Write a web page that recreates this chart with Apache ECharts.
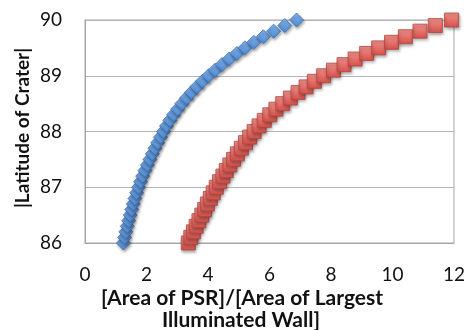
<!DOCTYPE html>
<html>
<head>
<meta charset="utf-8">
<script src="https://cdn.jsdelivr.net/npm/echarts@6/dist/echarts.min.js"></script>
<style>
html,body{margin:0;padding:0;background:#fff;}
#chart{width:468px;height:330px;}
</style>
</head>
<body>
<div id="chart"></div>
<script>
// Latitude of crater (y values), shared by both series
var latitudes = [86.0,86.1,86.2,86.3,86.4,86.5,86.6,86.7,86.8,86.9,
  87.0,87.1,87.2,87.3,87.4,87.5,87.6,87.7,87.8,87.9,
  88.0,88.1,88.2,88.3,88.4,88.5,88.6,88.7,88.8,88.9,
  89.0,89.1,89.2,89.3,89.4,89.5,89.6,89.7,89.8,89.9,90.0];
// [Area of PSR]/[Area of Largest Illuminated Wall] - blue diamonds
var blueRatio = [1.25,1.29,1.33,1.375,1.42,1.47,1.52,1.57,1.625,1.68,
  1.74,1.805,1.875,1.95,2.03,2.11,2.19,2.275,2.365,2.455,
  2.55,2.65,2.76,2.88,3.01,3.15,3.30,3.46,3.635,3.82,
  4.02,4.23,4.455,4.69,4.94,5.20,5.49,5.80,6.135,6.495,6.88];
// red squares
var redRatio = [3.36,3.44,3.525,3.615,3.705,3.80,3.89,3.98,4.075,4.17,
  4.27,4.375,4.485,4.595,4.71,4.83,4.955,5.085,5.22,5.355,
  5.50,5.66,5.83,6.01,6.21,6.43,6.68,6.93,7.19,7.46,
  7.76,8.08,8.425,8.785,9.16,9.55,9.97,10.42,10.895,11.395,11.92];
var xTicks = {min:0, max:12, interval:2};
var yTicks = {min:86, max:90, interval:1};
var xTitle1 = '[Area of PSR]/[Area of Largest';
var xTitle2 = 'Illuminated Wall]';
var yTitle = '|Latitude of Crater|';

function pairs(xs, ys){ return xs.map(function(v,i){ return [v, ys[i]]; }); }
function grad(top, bottom){
  return new echarts.graphic.LinearGradient(0,0,0,1,[{offset:0,color:top},{offset:1,color:bottom}]);
}
var FONT = 'Lato, "Open Sans", sans-serif';
var chart = echarts.init(document.getElementById('chart'), null, {renderer:'canvas'});
chart.setOption({
  animation:false,
  backgroundColor:'#fff',
  grid:{left:85, right:14, top:20, bottom:87, show:true, borderColor:'#a6a6a6', borderWidth:1, backgroundColor:'transparent'},
  xAxis:{type:'value', min:xTicks.min, max:xTicks.max, interval:xTicks.interval,
    axisLine:{show:true, lineStyle:{color:'#a6a6a6'}}, axisTick:{show:false},
    splitLine:{show:false},
    axisLabel:{color:'#111', fontSize:19, fontFamily:FONT, margin:22}},
  yAxis:{type:'value', min:yTicks.min, max:yTicks.max, interval:yTicks.interval,
    axisLine:{show:true, lineStyle:{color:'#a6a6a6'}}, axisTick:{show:false},
    splitLine:{show:true, lineStyle:{color:'#b5b5b5', width:1}},
    axisLabel:{color:'#111', fontSize:19, fontFamily:FONT, margin:23}},
  graphic:[
    {type:'text', x:242, y:298, silent:true, style:{text:xTitle1, font:'bold 21px '+FONT, fill:'#111', textAlign:'center', textVerticalAlign:'middle'}},
    {type:'text', x:241, y:320, silent:true, style:{text:xTitle2, font:'bold 21px '+FONT, fill:'#111', textAlign:'center', textVerticalAlign:'middle'}},
    {type:'text', x:23, y:128, rotation:Math.PI/2, silent:true, style:{text:yTitle, font:'bold 19px '+FONT, fill:'#111', textAlign:'center', textVerticalAlign:'middle'}}
  ],
  series:[
    {type:'scatter', data:pairs(redRatio, latitudes), symbol:'rect', symbolSize:14,
      itemStyle:{color:grad('#f3948d','#d5504a'), borderColor:'#b8443f', borderWidth:0.8,
        shadowBlur:3, shadowColor:'rgba(0,0,0,0.35)', shadowOffsetX:1, shadowOffsetY:2, opacity:1}},
    {type:'scatter', data:pairs(blueRatio, latitudes), symbol:'diamond', symbolSize:14,
      itemStyle:{color:grad('#86b6ee','#4b87d2'), borderColor:'#3d70b0', borderWidth:0.8,
        shadowBlur:3, shadowColor:'rgba(0,0,0,0.35)', shadowOffsetX:1, shadowOffsetY:2, opacity:1}}
  ]
});
</script>
</body>
</html>
